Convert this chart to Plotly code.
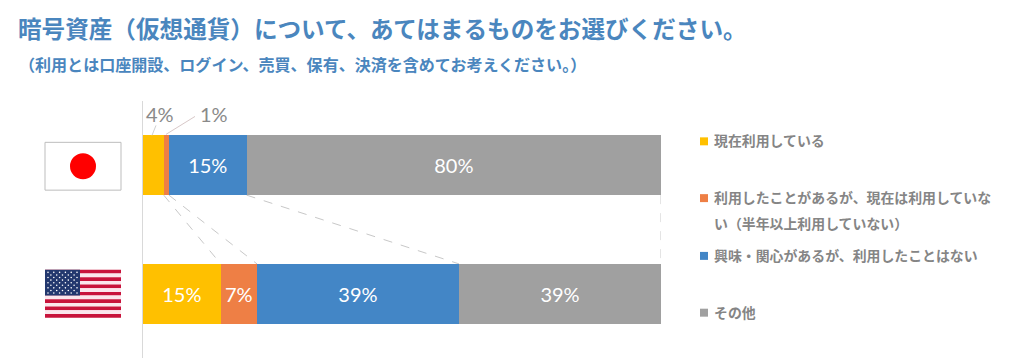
import plotly.graph_objects as go
from itertools import accumulate

W, H = 1024, 364
countries = ["日本", "米国"]
series_names = ["現在利用している", "利用したことがあるが、現在は利用していない(半年以上利用していない)",
                "興味・関心があるが、利用したことはない", "その他"]
current = [4, 15]
former = [1, 7]
interested = [15, 39]
other = [80, 39]
colors = ["#FFC000", "#EE7F45", "#4386C6", "#A0A0A0"]
all_series = [current, former, interested, other]

title = "暗号資産（仮想通貨）について、あてはまるものをお選びください。"
subtitle = "（利用とは口座開設、ログイン、売買、保有、決済を含めてお考えください。）"
legend_lines = [["現在利用している"], ["利用したことがあるが、現在は利用していな", "い（半年以上利用していない）"],
                ["興味・関心があるが、利用したことはない"], ["その他"]]
legend_y = [[140], [197, 223], [255], [312]]

L, R, T, B = 143, 661, 100.5, 358.5
JP = "Noto Sans CJK JP"
NUM = "Lato"

def px(x): return (x - L) / (R - L)
def py(y): return (B - y) / (B - T)

fig = go.Figure()
for name, vals, c in zip(series_names, all_series, colors):
    # small Japanese segments are labelled outside the bar with leader lines
    labels = [f"{v}%" if v >= 5 else "" for v in vals]
    fig.add_trace(go.Bar(y=countries, x=vals, name=name, orientation="h", marker=dict(color=c, line_width=0),
                         text=labels, textposition="inside", insidetextanchor="middle", constraintext="none",
                         textangle=0, textfont=dict(family=NUM, size=20, color="white"),
                         cliponaxis=False, showlegend=False, hoverinfo="skip"))

shapes, annotations = [], []

def rect(x0, y0, x1, y1, fill, line=None, kind="rect"):
    shapes.append(dict(type=kind, xref="paper", yref="paper", x0=px(x0), x1=px(x1), y0=py(y0), y1=py(y1),
                       fillcolor=fill, line=dict(color=line or fill, width=1 if line else 0), layer="above"))

def text(x, y, s, size, color, weight="normal", family=JP, anchor="left"):
    annotations.append(dict(xref="paper", yref="paper", x=px(x), y=py(y), text=s, showarrow=False, xanchor=anchor,
                            yanchor="middle", align="left", xshift=0, borderpad=0,
                            font=dict(family=family, size=size, color=color, weight=weight)))

# connector lines between the two bars, from cumulative values
half = 0.2325
cum_jp = list(accumulate(s[0] for s in all_series))
cum_us = list(accumulate(s[1] for s in all_series))
for a, b in zip(cum_jp, cum_us):
    shapes.append(dict(type="line", xref="x", yref="y", x0=a, x1=b, y0=half, y1=1 - half,
                       line=dict(color="#C8C8C8", width=1, dash="dash"), layer="below"))

# leader lines for outside labels
shapes.append(dict(type="line", xref="paper", yref="paper", x0=px(152), x1=px(156), y0=py(135), y1=py(125),
                   line=dict(color="#D0D0D0", width=1)))
shapes.append(dict(type="line", xref="paper", yref="paper", x0=px(166), x1=px(195), y0=py(134), y1=py(116),
                   line=dict(color="#D8C8C8", width=1)))
text(160, 114, f"{current[0]}%", 20, "#8A8A8A", family=NUM, anchor="center")
text(214, 114, f"{former[0]}%", 20, "#8A8A8A", family=NUM, anchor="center")

# Japanese flag
rect(45, 142, 121, 190, "white", "#BDBDBD")
rect(70, 153, 96, 179, "#FF0000", kind="circle")

# US flag
stripe_h = 48 / 13
for i in range(13):
    rect(45, 270 + i * stripe_h, 121, 270 + (i + 1) * stripe_h, "#C8133B" if i % 2 == 0 else "#FBE6EC")
rect(45, 270, 80, 270 + 7 * stripe_h, "#23386E")
for row in range(9):
    n = 6 if row % 2 == 0 else 5
    for col in range(n):
        cx = 48 + col * 5.8 + (0 if row % 2 == 0 else 2.9)
        cy = 272.5 + row * 2.6
        rect(cx - 0.8, cy - 0.8, cx + 0.8, cy + 0.8, "white", kind="circle")

# legend
for lines, ys, c in zip(legend_lines, legend_y, colors):
    rect(700, ys[0] - 3, 708, ys[0] + 5, c)
    for s, y in zip(lines, ys):
        text(713, y, s, 13.9, "#858585", "bold")

text(17, 27, title, 23.6, "#4A86BE", "bold")
text(18, 63, subtitle, 16.05, "#4A86BE", "bold")

fig.update_layout(
    width=W, height=H, barmode="stack", bargap=0.535, showlegend=False,
    paper_bgcolor="white", plot_bgcolor="white",
    margin=dict(l=L, r=W - R, t=T, b=H - B, autoexpand=False),
    xaxis=dict(range=[0, 100], visible=False, fixedrange=True),
    yaxis=dict(autorange=False, range=[1.5, -0.5], type="category", categoryorder="array", categoryarray=countries,
               showticklabels=False, ticks="", showgrid=False, zeroline=False, showline=True,
               linecolor="#D9D9D9", linewidth=1, fixedrange=True),
    shapes=shapes, annotations=annotations,
)
fig.write_html("out.html", config={"displayModeBar": False},
               post_script="document.body.style.margin='0';document.body.style.overflow='hidden';")
